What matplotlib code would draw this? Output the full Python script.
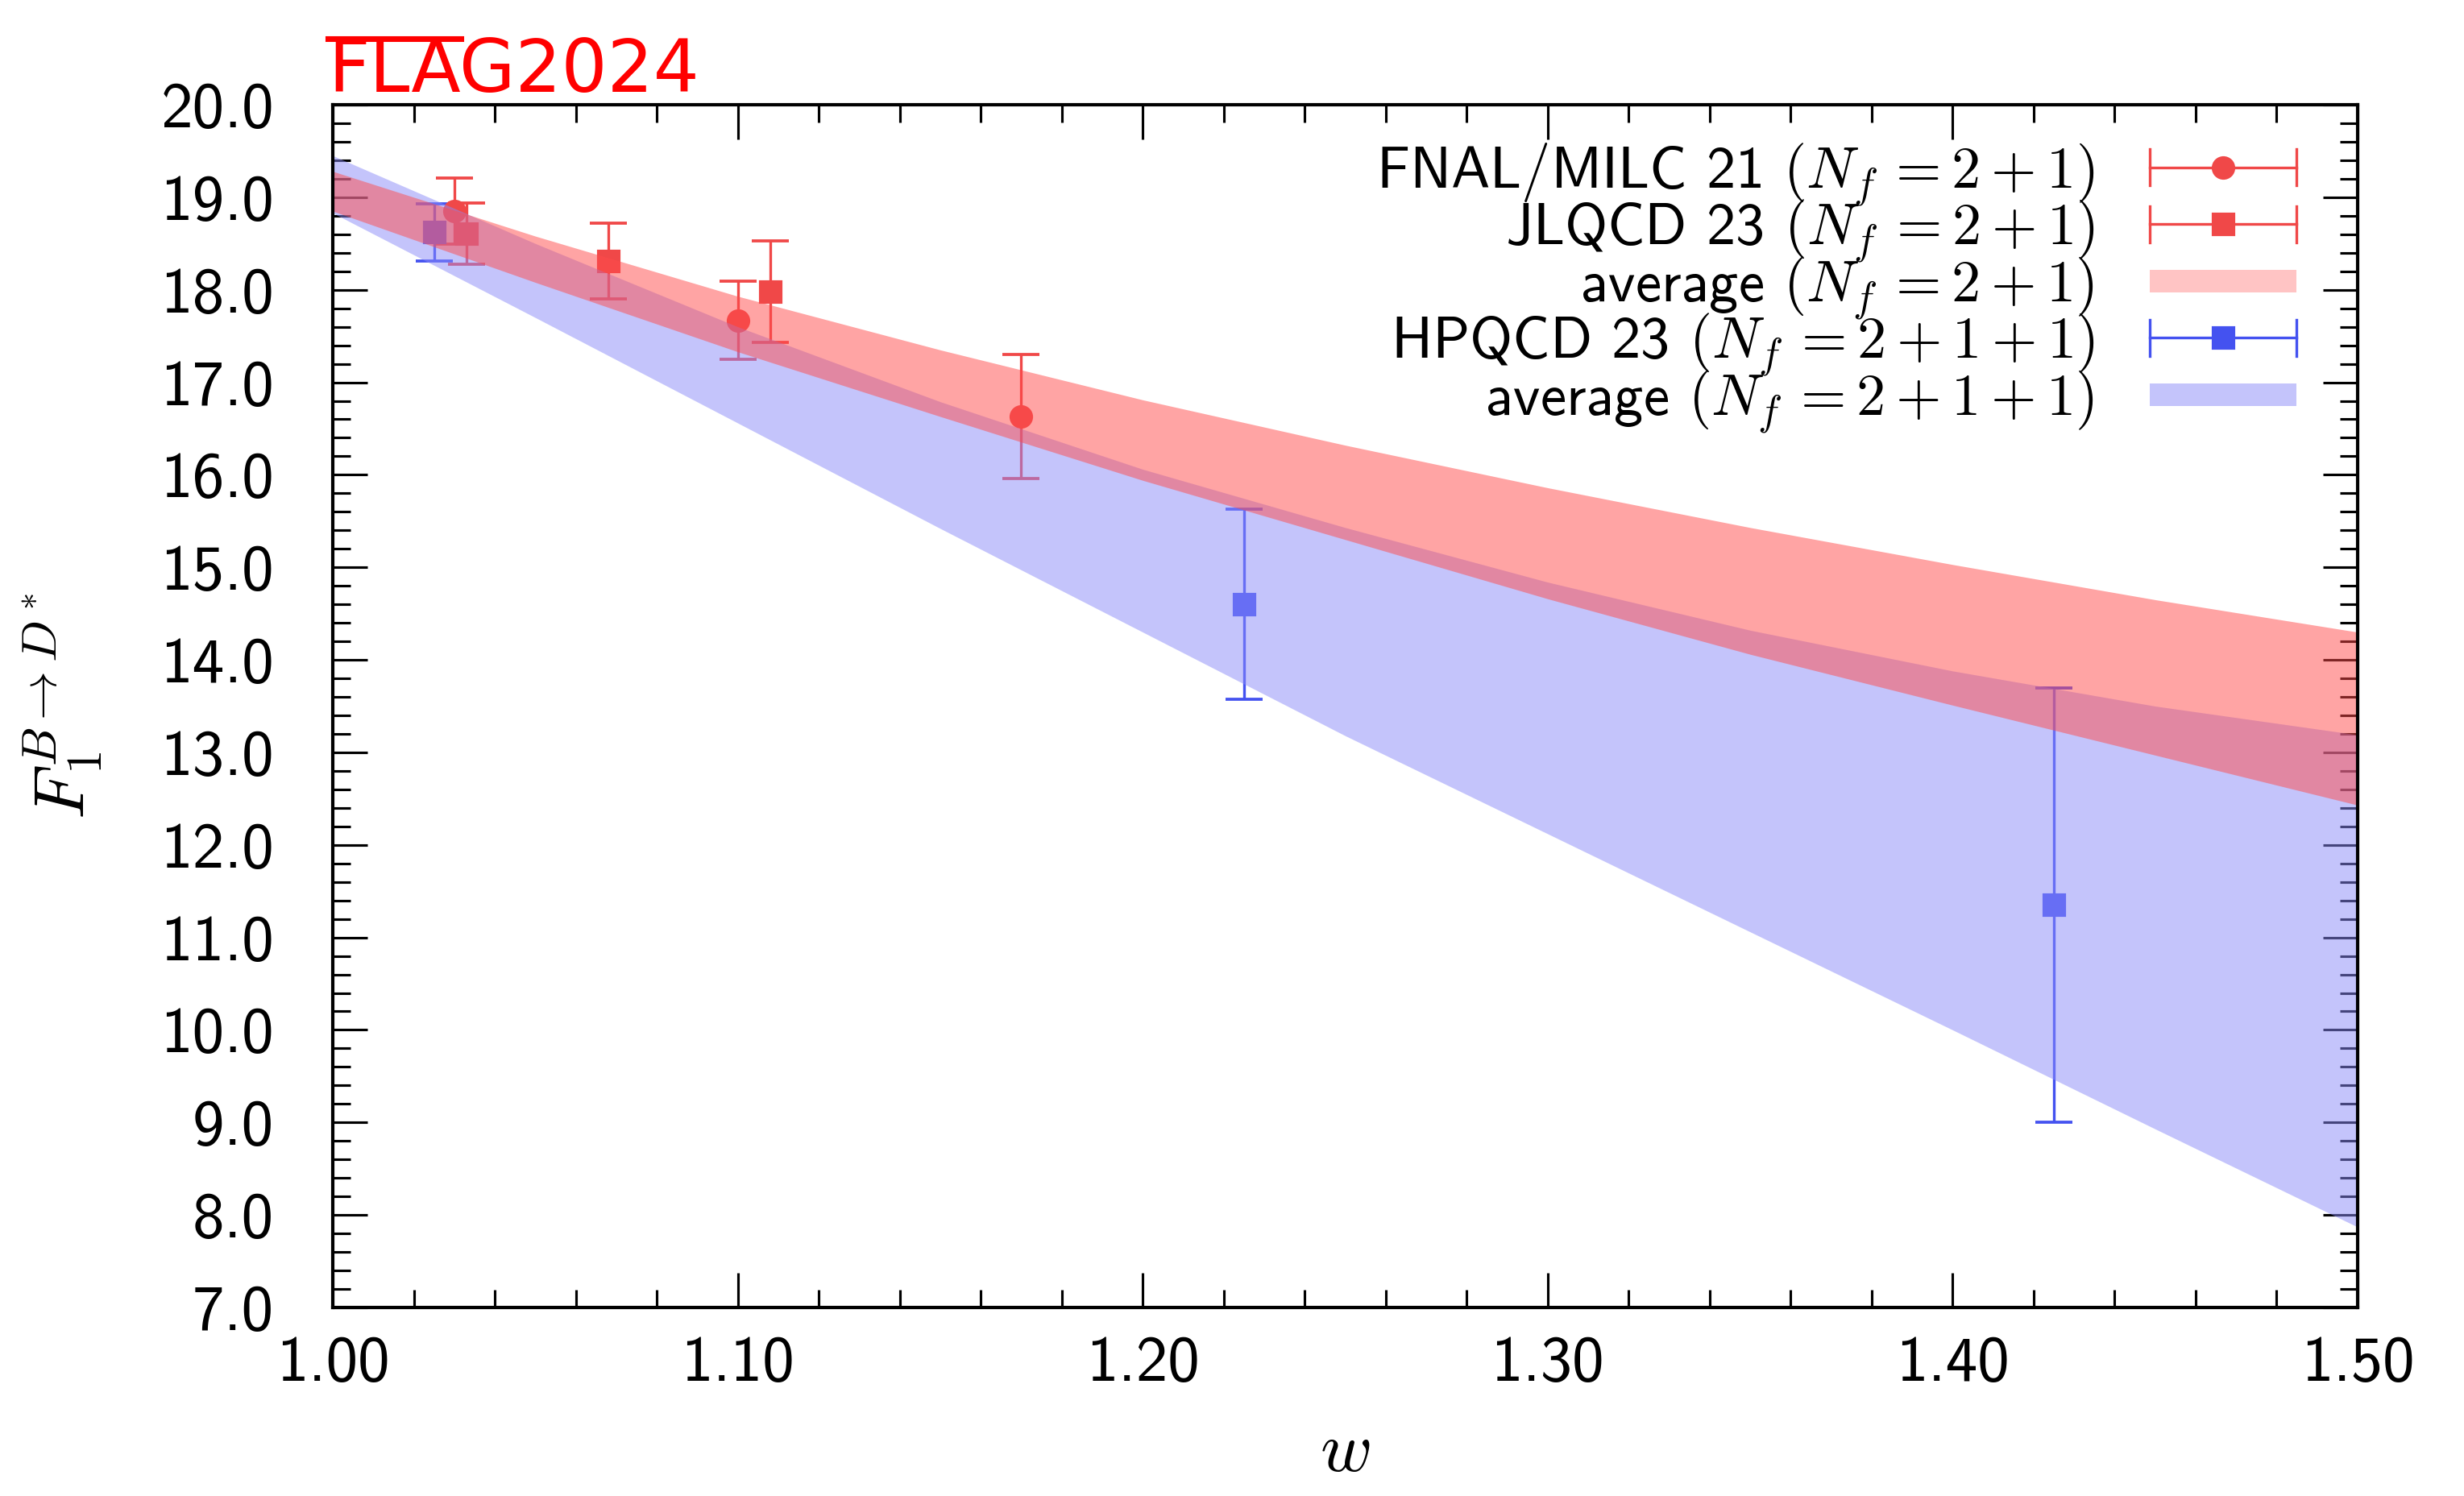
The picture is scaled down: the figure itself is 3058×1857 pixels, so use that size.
import numpy as np
import matplotlib
matplotlib.use("Agg")
import matplotlib.pyplot as plt
from matplotlib.lines import Line2D
from matplotlib.patches import Rectangle
from matplotlib.legend_handler import HandlerBase
from matplotlib.ticker import MultipleLocator, FormatStrFormatter

plt.rcParams['font.family'] = ['cmss10', 'DejaVu Sans']
plt.rcParams['mathtext.fontset'] = 'cm'
plt.rcParams['axes.unicode_minus'] = False

# datos
fnal_w = [1.030, 1.100, 1.170]
fnal_f = [18.85, 17.67, 16.63]
fnal_err = [0.36, 0.42, 0.67]

jlqcd_w = [1.033, 1.068, 1.108]
jlqcd_f = [18.61, 18.31, 17.98]
jlqcd_err = [0.33, 0.41, 0.55]

hpqcd_w = [1.025, 1.225, 1.425]
hpqcd_f = [18.62, 14.60, 11.35]
hpqcd_err = [0.31, 1.03, 2.35]

# bandas (promedios FLAG)
band_w = [1.00, 1.05, 1.10, 1.15, 1.20, 1.25, 1.30, 1.35, 1.40, 1.45, 1.50]
red_hi = [19.28, 18.58, 17.93, 17.35, 16.81, 16.32, 15.86, 15.43, 15.03, 14.65, 14.30]
red_lo = [18.85, 18.08, 17.33, 16.63, 15.94, 15.30, 14.66, 14.06, 13.51, 12.97, 12.43]
blue_hi = [19.45, 18.50, 17.60, 16.79, 16.06, 15.43, 14.84, 14.32, 13.88, 13.50, 13.19]
blue_lo = [18.83, 17.70, 16.56, 15.42, 14.30, 13.18, 12.12, 11.06, 10.00, 8.93, 7.87]

labels = [r'FNAL/MILC 21 $(N_f\,=2+1)$',
          r'JLQCD 23 $(N_f\,=2+1)$',
          r'average $(N_f\,=2+1)$',
          r'HPQCD 23 $(N_f\,=2+1+1)$',
          r'average $(N_f\,=2+1+1)$']

RED = '#f04848'
BLUE = '#4452f0'

W, H, DPI = 3058, 1857, 300
fig = plt.figure(figsize=(W / DPI, H / DPI), dpi=DPI)
ax = fig.add_axes([413 / W, 1 - 1623 / H, 2513 / W, 1493 / H])

# puntos
kw = dict(ls='none', ms=6, elinewidth=0.8, capsize=5.5, capthick=0.9, zorder=2)
ax.errorbar(fnal_w, fnal_f, yerr=fnal_err, fmt='o', color=RED, **kw)
ax.errorbar(jlqcd_w, jlqcd_f, yerr=jlqcd_err, fmt='s', color=RED, **kw)
ax.errorbar(hpqcd_w, hpqcd_f, yerr=hpqcd_err, fmt='s', color=BLUE, **kw)

# bandas encima de los puntos
ax.fill_between(band_w, blue_lo, blue_hi, color='#8b8bf9', alpha=0.5, lw=0, zorder=3)
ax.fill_between(band_w, red_lo, red_hi, color='#ff4b4b', alpha=0.5, lw=0, zorder=3.1)

ax.set_xlim(1.0, 1.5)
ax.set_ylim(7.0, 20.0)
ax.xaxis.set_major_locator(MultipleLocator(0.1))
ax.xaxis.set_minor_locator(MultipleLocator(0.02))
ax.yaxis.set_major_locator(MultipleLocator(1.0))
ax.yaxis.set_minor_locator(MultipleLocator(0.2))
ax.xaxis.set_major_formatter(FormatStrFormatter('%.2f'))
ax.yaxis.set_major_formatter(FormatStrFormatter('%.1f'))
ax.tick_params(which='both', direction='in', top=True, right=True, width=0.75,
               labelsize=19)
ax.tick_params(which='major', length=10.4)
ax.tick_params(which='minor', length=5.3)
ax.tick_params(axis='y', pad=17.5)
ax.tick_params(axis='x', pad=8.5)
for s in ax.spines.values():
    s.set_linewidth(1.0)
    s.set_zorder(5)

ax.set_xlabel(r'$w$', fontsize=21)
ax.xaxis.set_label_coords(0.5, -0.096)
ax.set_ylabel(r'$F_1^{B\to D^*}$', fontsize=21)
ax.yaxis.set_label_coords(-0.113, 0.5)


# leyenda con barras horizontales
class HandlerHBar(HandlerBase):
    def create_artists(self, legend, orig_handle, xdescent, ydescent,
                       width, height, fontsize, trans):
        y = height / 2 - ydescent
        x0, x1 = -xdescent, width - xdescent
        c = orig_handle.get_color()
        cap = 5.4
        arts = [Line2D([x0, x1], [y, y], color=c, lw=0.8),
                Line2D([x0, x0], [y - cap, y + cap], color=c, lw=0.8),
                Line2D([x1, x1], [y - cap, y + cap], color=c, lw=0.8),
                Line2D([(x0 + x1) / 2], [y], marker=orig_handle.get_marker(),
                       ms=6, color=c, ls='none')]
        for a in arts:
            a.set_transform(trans)
        return arts


class HandlerBand(HandlerBase):
    def create_artists(self, legend, orig_handle, xdescent, ydescent,
                       width, height, fontsize, trans):
        h = 6.7
        y = height / 2 - ydescent
        r = Rectangle((-xdescent, y - h / 2), width, h,
                      facecolor=orig_handle.get_facecolor(), lw=0)
        r.set_transform(trans)
        return [r]


h_fnal = Line2D([], [], color=RED, marker='o')
h_jl = Line2D([], [], color=RED, marker='s')
h_red = Rectangle((0, 0), 1, 1, facecolor='#ffc4c4')
h_hp = Line2D([], [], color=BLUE, marker='s')
h_blue = Rectangle((0, 0), 1, 1, facecolor='#c4c4fb')

fs_leg = 17.4
ax.legend([h_fnal, h_jl, h_red, h_hp, h_blue], labels, loc='upper right',
          bbox_to_anchor=(1 - 76 / 2513, 1 - 45 / 1493), borderaxespad=0,
          borderpad=0, frameon=False, markerfirst=False, fontsize=fs_leg,
          handlelength=182 / 300 * 72 / fs_leg, handletextpad=0.95,
          labelspacing=-0.17,
          handler_map={Line2D: HandlerHBar(), Rectangle: HandlerBand()})

# logo FLAG
fx, fy = 407 / W, 1 - 114 / H
logo = dict(color='red', fontsize=21.5, family='DejaVu Sans', va='baseline')
fig.text(fx, fy, 'FLAG2024', **logo)
r = fig.canvas.get_renderer()
tmp = fig.text(fx, fy, 'FLA', **logo)
bb = tmp.get_window_extent(renderer=r)
tmp.remove()
fig.add_artist(Line2D([fx, bb.x1 / W], [1 - 48 / H, 1 - 48 / H],
                      transform=fig.transFigure, color='red', lw=1.7))

fig.savefig('out.png', dpi=DPI)
